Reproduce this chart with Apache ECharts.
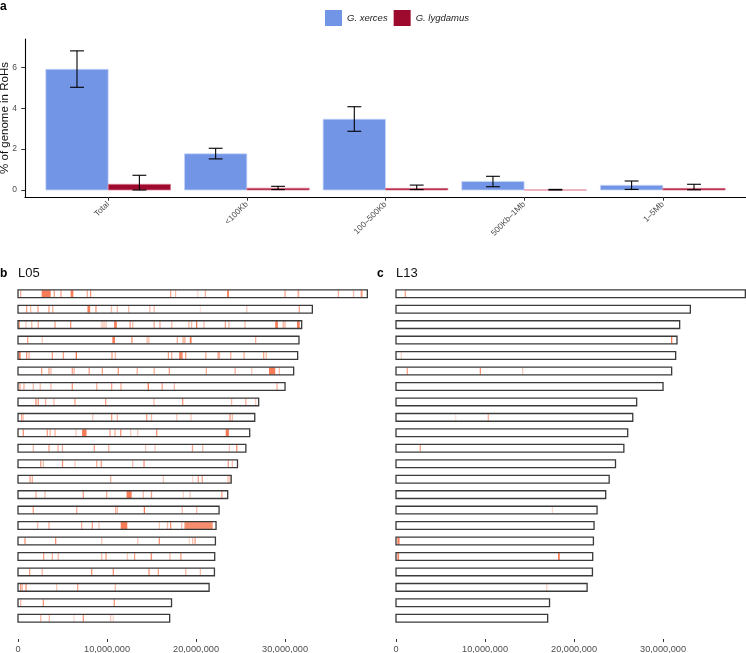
<!DOCTYPE html>
<html><head><meta charset="utf-8">
<script src="https://cdn.jsdelivr.net/npm/echarts@6/dist/echarts.min.js"></script>
<style>html,body{margin:0;padding:0;background:#fff}#c{width:746px;height:653px}</style>
</head><body><div id="c"></div>
<script>
// ---------- Panel a data ----------
const categories = ['Total', '<100Kb', '100–500Kb', '500Kb–1Mb', '1–5Mb'];
const xercesMean = [5.90, 1.77, 3.46, 0.42, 0.23];
const xercesLow  = [5.02, 1.52, 2.87, 0.16, 0.03];
const xercesHigh = [6.80, 2.04, 4.07, 0.67, 0.44];
const lygdamusMean = [0.28, 0.09, 0.08, 0.00, 0.08];
const lygdamusLow  = [0.00, 0.02, 0.02, 0.00, 0.01];
const lygdamusHigh = [0.72, 0.18, 0.24, 0.03, 0.28];
const yTicks = [0, 2, 4, 6];

// ---------- Panels b/c data (Mb) ----------
const chrLengthsMb = [39.25, 33.07, 31.87, 31.57, 31.42, 30.97, 30.0, 27.04, 26.6, 26.03, 25.6,
  24.66, 23.95, 23.56, 22.59, 22.25, 22.18, 22.1, 22.07, 21.47, 17.25, 17.04];
const xTicksMb = [0, 10, 20, 30];
// [row, startMb, endMb, weight]
const rohL05 = [
  [0,0.3,0.3,0.6],[0,2.66,3.67,1],[0,4.08,4.08,0.7],[0,4.83,4.83,0.7],[0,5.92,6.22,1],[0,7.79,7.79,0.6],[0,8.16,8.16,0.8],[0,17.15,17.15,0.7],[0,17.7,17.7,0.5],[0,20.2,20.2,0.3],[0,21.05,21.05,0.6],[0,23.5,23.7,1],[0,30.0,30.0,0.7],[0,31.4,31.6,0.6],[0,36.0,36.0,0.6],[0,37.7,37.7,0.5],[0,38.5,38.7,0.8],
  [1,0.97,0.97,0.7],[1,1.42,1.42,0.5],[1,2.25,2.25,0.7],[1,3.48,3.48,0.7],[1,3.9,3.9,0.6],[1,7.8,8.1,1],[1,8.76,8.76,0.8],[1,10.5,10.5,0.5],[1,11.16,11.16,0.5],[1,12.43,12.43,0.5],[1,14.8,14.8,0.5],[1,15.3,15.3,0.5],[1,20.5,20.5,0.2],[1,25.7,25.7,0.4],[1,31.6,31.6,0.7],
  [2,0.15,0.15,0.7],[2,0.9,0.9,0.4],[2,1.54,1.54,0.5],[2,2.28,2.28,0.6],[2,4.16,4.16,0.7],[2,5.92,5.92,0.8],[2,9.3,10.0,0.3],[2,10.8,11.1,1],[2,12.6,12.6,0.7],[2,12.9,12.9,0.5],[2,15.3,15.3,0.6],[2,15.95,15.95,0.6],[2,17.27,17.27,0.5],[2,19.2,19.2,0.5],[2,19.5,19.5,0.5],[2,20.07,20.07,1],[2,20.9,20.9,0.5],[2,23.3,23.3,0.7],[2,23.7,23.7,0.5],[2,25.5,25.5,0.5],[2,28.9,29.2,1],[2,29.8,29.8,0.6],[2,30.0,30.0,0.6],[2,31.35,31.65,1],
  [3,1.09,1.09,0.7],[3,2.73,2.73,0.4],[3,10.6,10.9,1],[3,12.8,12.8,0.8],[3,14.5,14.5,0.5],[3,14.7,14.7,0.5],[3,17.9,17.9,0.6],[3,18.46,18.84,0.5],[3,19.3,19.5,1],[3,26.7,26.7,0.6],
  [4,0.1,0.3,1],[4,0.97,0.97,0.8],[4,1.24,1.24,0.6],[4,3.86,3.86,0.7],[4,5.1,5.1,0.7],[4,6.48,6.63,1],[4,10.56,10.56,0.7],[4,10.94,10.94,0.5],[4,16.9,16.9,0.7],[4,17.27,17.27,0.6],[4,18.1,18.5,0.9],[4,18.84,18.84,0.7],[4,21.1,21.1,0.6],[4,22.4,22.7,0.6],[4,23.9,23.9,0.6],[4,25.4,25.4,0.6],[4,27.6,27.6,0.7],[4,27.9,27.9,0.5],
  [5,2.66,2.66,0.7],[5,3.48,3.48,0.7],[5,3.7,3.7,0.5],[5,6.1,6.1,0.7],[5,6.3,6.3,0.6],[5,8.0,8.0,0.7],[5,9.48,9.48,0.7],[5,11.27,11.27,0.8],[5,13.4,13.4,0.6],[5,15.3,15.3,0.6],[5,17.0,17.0,0.7],[5,21.16,21.16,0.6],[5,24.4,24.4,0.6],[5,26.25,26.25,0.4],[5,28.2,28.9,1],[5,29.36,29.36,0.5],
  [6,0.22,0.22,0.7],[6,0.67,0.67,0.6],[6,1.72,1.72,0.5],[6,2.5,2.5,0.5],[6,3.7,3.7,0.5],[6,6.1,6.1,0.8],[6,8.84,8.84,0.6],[6,10.52,10.52,0.7],[6,11.57,11.57,0.6],[6,14.64,14.64,1],[6,16.2,16.2,0.7],[6,17.57,17.57,0.5],[6,29.1,29.1,0.6],
  [7,2.02,2.02,0.8],[7,2.28,2.28,0.7],[7,3.1,3.1,0.6],[7,4.04,4.04,0.5],[7,6.4,6.4,0.7],[7,9.85,9.85,0.7],[7,15.28,15.28,0.5],[7,18.5,18.5,0.8],[7,24.0,24.0,0.5],[7,25.6,25.6,0.6],[7,26.7,26.7,0.4],
  [8,0.41,0.41,0.7],[8,0.6,0.6,0.4],[8,8.4,8.4,0.4],[8,10.52,10.52,0.7],[8,11.16,11.16,0.5],[8,14.46,14.46,0.7],[8,15.0,15.0,0.5],[8,17.83,17.83,0.4],[8,19.44,19.44,0.4],[8,23.82,23.82,0.8],[8,24.08,24.08,0.5],
  [9,0.6,0.6,0.8],[9,3.3,3.3,0.7],[9,3.6,3.6,0.6],[9,4.16,4.16,0.6],[9,6.52,6.52,0.4],[9,7.2,7.7,1],[9,10.34,10.34,0.7],[9,10.9,10.9,0.6],[9,11.54,11.54,0.8],[9,12.66,12.66,0.4],[9,13.45,13.45,0.4],[9,15.58,15.58,0.8],[9,23.33,23.7,1],
  [10,1.72,1.72,0.5],[10,3.48,3.48,0.7],[10,4.5,4.5,0.6],[10,5.0,5.0,0.6],[10,8.58,8.58,0.7],[10,10.19,10.19,0.6],[10,14.34,14.34,0.4],[10,15.4,15.4,0.4],[10,19.6,19.6,0.7],[10,20.75,20.75,0.5],[10,23.75,23.75,0.4],[10,24.57,24.57,0.8],
  [11,2.55,2.55,0.7],[11,2.85,2.85,0.5],[11,5.0,5.0,0.8],[11,6.4,6.4,0.4],[11,8.84,8.84,0.6],[11,9.36,9.36,0.7],[11,12.88,12.88,0.5],[11,14.16,14.16,0.8],[11,23.63,23.63,0.7],[11,24.08,24.08,0.5],
  [12,1.35,1.35,0.7],[12,1.61,1.61,0.6],[12,10.41,10.41,0.6],[12,16.33,16.33,0.4],[12,19.63,19.63,0.3],[12,20.26,20.26,0.7],[12,20.7,20.7,0.7],[12,23.6,23.6,0.5],[12,23.82,23.82,0.5],
  [13,2.02,2.02,0.6],[13,3.03,3.03,0.5],[13,7.34,7.34,0.7],[13,9.96,9.96,0.6],[13,12.2,12.77,1],[13,14.08,14.08,0.5],[13,15.0,15.0,0.7],[13,18.58,18.58,0.3],[13,19.33,19.33,0.4],[13,22.9,22.9,0.7],
  [14,1.72,1.72,0.7],[14,6.59,6.59,0.6],[14,10.97,10.97,0.6],[14,11.16,11.16,0.5],[14,14.2,14.3,1],[14,18.46,18.46,0.5],[14,20.07,20.07,0.5],
  [15,2.2,2.2,0.5],[15,3.48,3.48,0.6],[15,7.15,7.15,0.6],[15,8.35,8.35,0.7],[15,9.1,9.1,0.4],[15,11.54,12.28,1],[15,15.88,15.88,0.4],[15,16.8,16.8,0.5],[15,17.15,17.15,0.8],[15,18.39,18.39,0.5],[15,18.7,21.87,0.85],
  [16,0.79,0.79,0.8],[16,4.23,4.23,0.8],[16,9.4,9.4,0.4],[16,13.45,13.45,0.4],[16,15.88,15.88,0.8],[16,19.25,19.25,0.3],[16,19.63,19.63,0.5],[16,19.9,19.9,0.7],
  [17,2.88,2.88,0.7],[17,3.86,3.86,0.6],[17,4.53,4.53,0.5],[17,9.4,9.4,0.5],[17,9.89,9.89,0.7],[17,12.3,12.3,0.4],[17,13.1,13.1,0.7],[17,14.9,15.06,0.8],[17,17.08,17.08,0.5],[17,18.3,18.3,0.7],
  [18,1.31,1.31,0.7],[18,2.73,2.73,0.5],[18,8.28,8.28,0.8],[18,10.71,10.71,0.8],[18,14.72,14.72,0.8],[18,15.77,15.77,0.7],[18,18.84,18.84,0.5],[18,20.49,20.49,0.5],
  [19,0.3,0.3,0.8],[19,0.49,0.49,0.5],[19,0.9,0.9,0.8],[19,4.34,4.34,0.4],[19,6.7,6.7,0.7],[19,10.94,10.94,0.5],
  [20,0.3,0.3,0.5],[20,2.85,2.85,0.8],[20,10.82,10.82,0.8],
  [21,2.55,2.55,0.5],[21,3.52,3.52,0.5],[21,6.29,6.29,0.3],[21,7.34,7.34,0.8],[21,10.41,10.41,0.4],[21,10.71,10.71,0.3]
];
const rohL13 = [
  [0,1.05,1.05,0.7],[3,30.97,31.1,1],[4,0.6,0.6,0.3],[5,1.27,1.27,0.7],[5,9.48,9.48,0.8],[5,14.23,14.23,0.4],
  [8,6.7,6.7,0.2],[8,10.37,10.37,0.6],[10,2.73,2.73,0.7],[14,17.57,17.57,0.3],[16,0.15,0.4,1],[17,0.15,0.35,0.9],
  [17,18.2,18.4,1],[19,16.93,16.93,0.35]
];

// ---------- Rendering ----------
const FONT = 'Liberation Sans, Arial, Helvetica, sans-serif';
const BLUE = '#7395E6', RED = '#9E0A2E', ROH = '#F67B56';
const rowNames = chrLengthsMb.map((d, i) => 'chr' + (i + 1));
const chart = echarts.init(document.getElementById('c'));

function barSeries(name, color, stroke, offset, mean, lo, hi) {
  return {
    type: 'custom', name, xAxisIndex: 0, yAxisIndex: 0,
    itemStyle: { color },
    data: mean.map((m, i) => [i + 1, m, lo[i], hi[i]]),
    encode: { x: 0, y: [1, 2, 3] },
    renderItem(params, api) {
      const c = api.value(0) + offset, v = api.value(1), l = api.value(2), h = api.value(3);
      const a = api.coord([c - 0.225, 0]), b = api.coord([c + 0.225, v]);
      const cx = api.coord([c, 0])[0];
      const capL = api.coord([c - 0.05, 0])[0], capR = api.coord([c + 0.05, 0])[0];
      const yl = api.coord([c, l])[1], yh = api.coord([c, h])[1];
      const ls = { stroke: '#000', lineWidth: 1.1 };
      return { type: 'group', children: [
        { type: 'rect', shape: { x: a[0], y: b[1], width: b[0] - a[0], height: a[1] - b[1] }, style: { fill: color, stroke, lineWidth: 0.8 } },
        { type: 'line', shape: { x1: cx, y1: yl, x2: cx, y2: yh }, style: ls },
        { type: 'line', shape: { x1: capL, y1: yl, x2: capR, y2: yl }, style: ls },
        { type: 'line', shape: { x1: capL, y1: yh, x2: capR, y2: yh }, style: ls }
      ]};
    }
  };
}

function boxSeries(gi, fillOnly) {
  return {
    type: 'custom', xAxisIndex: gi, yAxisIndex: gi, silent: true,
    data: chrLengthsMb.map((L, i) => [i, L]),
    encode: { x: 1, y: 0 },
    renderItem(params, api) {
      const p0 = api.coord([0, api.value(0)]), p1 = api.coord([api.value(1), api.value(0)]);
      const h = api.size([0, 1])[1] * 0.5;
      return { type: 'rect', shape: { x: p0[0], y: p0[1] - h / 2, width: p1[0] - p0[0], height: h },
        style: fillOnly ? { fill: '#fff' } : { fill: 'none', stroke: '#3a3a3a', lineWidth: 1.3 } };
    }
  };
}

function rohSeries(gi, data) {
  return {
    type: 'custom', xAxisIndex: gi, yAxisIndex: gi, silent: true,
    data,
    encode: { x: [1, 2], y: 0 },
    renderItem(params, api) {
      const r = api.value(0);
      const p0 = api.coord([api.value(1), r]), p1 = api.coord([api.value(2), r]);
      const h = api.size([0, 1])[1] * 0.46;
      const w = Math.max(p1[0] - p0[0], 1.3);
      return { type: 'rect', shape: { x: p0[0] - (p1[0] - p0[0] < 1.3 ? 0.65 : 0), y: p0[1] - h / 2, width: w, height: h },
        style: { fill: ROH, opacity: api.value(3) } };
    }
  };
}

function chrXAxis(gi) {
  return {
    gridIndex: gi, type: 'value', min: 0, max: 39.3, offset: 13,
    axisLine: { show: false },
    axisTick: { show: true, customValues: xTicksMb, length: 3, lineStyle: { color: '#333', width: 1 } },
    axisLabel: { customValues: xTicksMb, formatter: v => (v * 1e6).toLocaleString('en-US'),
      fontSize: 9.2, color: '#4d4d4d', margin: 6, fontFamily: FONT },
    splitLine: { show: false }
  };
}

const option = {
  animation: false,
  backgroundColor: '#fff',
  textStyle: { fontFamily: FONT },
  legend: {
    left: 320, top: 5, itemWidth: 17, itemHeight: 16, itemGap: 6, icon: 'rect',
    textStyle: { fontSize: 9.5, fontStyle: 'italic', color: '#222', fontFamily: FONT },
    data: [{ name: 'G. xerces', itemStyle: { color: BLUE } }, { name: 'G. lygdamus', itemStyle: { color: RED } }]
  },
  grid: [
    { left: 25, right: 0, top: 39, height: 158, containLabel: false, outerBoundsMode: 'none' },
    { left: 18, top: 286, width: 349.8, height: 340, containLabel: false, outerBoundsMode: 'none' },
    { left: 396, top: 286, width: 349.8, height: 340, containLabel: false, outerBoundsMode: 'none' }
  ],
  xAxis: [
    { gridIndex: 0, type: 'value', min: 0.4, max: 5.6,
      axisLine: { show: true, onZero: false, lineStyle: { color: '#000', width: 1.1 } },
      axisTick: { show: true, customValues: [1, 2, 3, 4, 5], length: 3.7, lineStyle: { color: '#333' } },
      axisLabel: { customValues: [1, 2, 3, 4, 5], formatter: v => categories[Math.round(v) - 1],
        rotate: 45, fontSize: 8.3, color: '#4d4d4d', margin: 6, fontFamily: FONT },
      splitLine: { show: false } },
    chrXAxis(1), chrXAxis(2)
  ],
  yAxis: [
    { gridIndex: 0, type: 'value', min: -0.342, max: 7.38,
      axisLine: { show: true, onZero: false, lineStyle: { color: '#000', width: 1.1 } },
      axisTick: { show: true, customValues: yTicks, length: 3.7, lineStyle: { color: '#333' } },
      axisLabel: { customValues: yTicks, fontSize: 8.5, color: '#4d4d4d', margin: 8, fontFamily: FONT },
      splitLine: { show: false },
      name: '% of genome in RoHs', nameLocation: 'middle', nameGap: 14, nameMoveOverlap: false,
      nameTextStyle: { fontSize: 11.5, color: '#111', fontFamily: FONT } },
    { gridIndex: 1, type: 'category', data: rowNames, inverse: true, show: false },
    { gridIndex: 2, type: 'category', data: rowNames, inverse: true, show: false }
  ],
  graphic: [
    { type: 'text', x: 0, y: 1, style: { text: 'a', font: 'bold 12px ' + FONT, fill: '#000' } },
    { type: 'text', x: 0, y: 268, style: { text: 'b', font: 'bold 12px ' + FONT, fill: '#000' } },
    { type: 'text', x: 18, y: 267, style: { text: 'L05', font: '13px ' + FONT, fill: '#111' } },
    { type: 'text', x: 377, y: 268, style: { text: 'c', font: 'bold 12px ' + FONT, fill: '#000' } },
    { type: 'text', x: 396, y: 267, style: { text: 'L13', font: '13px ' + FONT, fill: '#111' } }
  ],
  series: [
    barSeries('G. xerces', BLUE, 'rgba(200,215,250,0.9)', -0.225, xercesMean, xercesLow, xercesHigh),
    barSeries('G. lygdamus', RED, 'rgba(225,130,150,0.9)', 0.225, lygdamusMean, lygdamusLow, lygdamusHigh),
    boxSeries(1, true), rohSeries(1, rohL05), boxSeries(1, false),
    boxSeries(2, true), rohSeries(2, rohL13), boxSeries(2, false)
  ]
};
chart.setOption(option);
</script>
</body></html>
